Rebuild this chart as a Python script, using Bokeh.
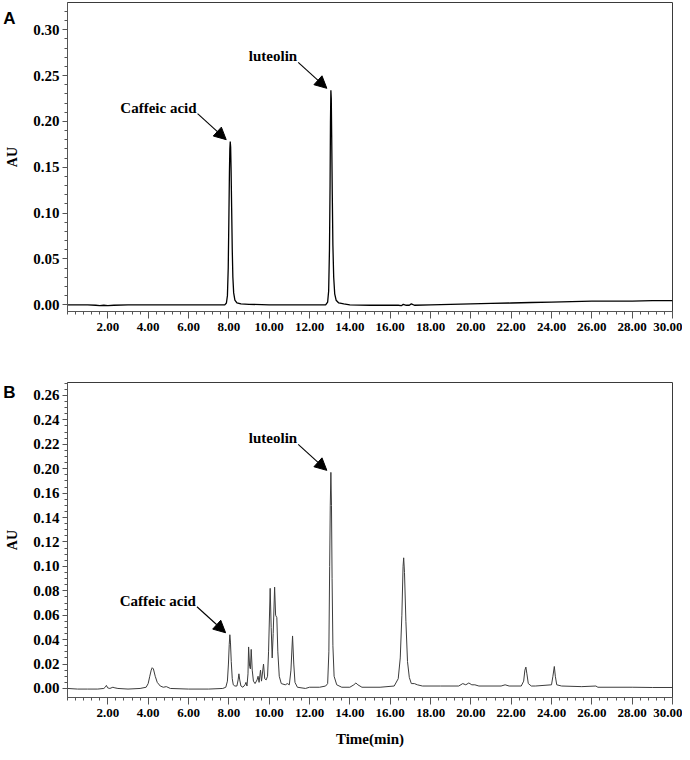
import numpy as np
from bokeh.plotting import figure
from bokeh.models import Range1d, FixedTicker, Arrow, NormalHead, Label, LinearAxis
from bokeh.layouts import column
from bokeh.embed import file_html
from bokeh.resources import INLINE

# ---------------- data: panel A (standards) ----------------
time_a = [0.0, 0.5, 1.0, 1.4, 1.6, 1.8, 2.0, 2.3, 3.0, 4.0, 5.0, 6.0, 7.0, 7.6,
          7.80, 7.88, 7.93, 7.97, 8.00, 8.03, 8.05, 8.07, 8.09, 8.11, 8.14, 8.17, 8.20, 8.24, 8.30, 8.40, 8.60,
          9.0, 10.0, 11.0, 12.0, 12.5,
          12.80, 12.90, 12.95, 12.99, 13.02, 13.04, 13.06, 13.08, 13.10, 13.13, 13.16, 13.20, 13.25, 13.32, 13.45, 13.70,
          14.0, 15.0, 16.0, 16.4, 16.55, 16.65, 16.8, 16.95, 17.05, 17.2, 18.0, 19.0, 20.0, 21.0, 22.0,
          23.0, 24.0, 25.0, 26.0, 27.0, 28.0, 29.0, 30.0]
au_a = [0.0, 0.0, 0.0, -0.0005, -0.001, -0.0005, -0.001, -0.0005, 0.0, 0.0, 0.0, 0.0, 0.0, 0.0,
        0.000, 0.002, 0.010, 0.040, 0.090, 0.145, 0.170, 0.178, 0.172, 0.150, 0.105, 0.060, 0.030, 0.013, 0.005, 0.002, 0.001,
        0.0005, 0.0, 0.0, 0.0, 0.0,
        0.000, 0.003, 0.015, 0.060, 0.130, 0.200, 0.234, 0.225, 0.185, 0.120, 0.065, 0.030, 0.012, 0.005, 0.002, 0.001,
        0.0, -0.0005, -0.0005, -0.0005, -0.001, 0.0005, -0.0005, -0.0005, 0.001, -0.0005, 0.0, 0.0005, 0.001, 0.0015, 0.002,
        0.0025, 0.003, 0.0035, 0.004, 0.004, 0.004, 0.0045, 0.0045]

# ---------------- data: panel B (sample) ----------------
time_b = [0.0, 0.5, 1.0, 1.5, 1.8, 1.87, 1.93, 1.99, 2.1, 2.25, 2.35, 2.5, 3.0, 3.6,
          3.90, 4.00, 4.08, 4.15, 4.20, 4.26, 4.35, 4.45, 4.60, 4.75, 4.90, 5.10, 6.0, 7.0, 7.7,
          7.85, 7.93, 7.98, 8.02, 8.05, 8.08, 8.12, 8.17, 8.22, 8.30,
          8.40, 8.46, 8.50, 8.54, 8.60, 8.70, 8.80, 8.85, 8.90,
          8.95, 8.98, 9.03, 9.07, 9.11, 9.16, 9.22, 9.30, 9.40, 9.45, 9.50, 9.57, 9.62, 9.72, 9.78,
          9.85, 9.92, 9.97, 10.05, 10.10, 10.15, 10.20, 10.27, 10.32, 10.38, 10.43, 10.50, 10.60,
          10.80, 10.90, 11.00, 11.08, 11.16, 11.22, 11.28, 11.40, 11.80, 12.00, 12.50, 12.80,
          12.90, 12.96, 13.00, 13.03, 13.06, 13.09, 13.12, 13.16, 13.22, 13.35, 13.60,
          14.00, 14.20, 14.30, 14.40, 14.60, 15.50, 16.20,
          16.40, 16.50, 16.58, 16.64, 16.67, 16.71, 16.78, 16.86, 16.95, 17.05, 17.20, 17.35, 17.60,
          18.50, 19.40, 19.60, 19.75, 19.90, 20.05, 20.20, 20.40, 21.50, 21.70, 21.90, 22.50,
          22.62, 22.68, 22.73, 22.78, 22.85, 23.00, 23.20, 24.00,
          24.07, 24.14, 24.19, 24.26, 24.50, 25.50, 26.20, 26.30, 27.0, 28.0, 29.0, 30.0]
au_b = [0.0, -0.0005, -0.0005, -0.0005, 0.0, 0.001, 0.0025, 0.0005, 0.0, 0.001, 0.0005, 0.0, -0.0005, 0.0,
        0.001, 0.004, 0.010, 0.015, 0.017, 0.016, 0.010, 0.005, 0.002, 0.001, 0.0015, 0.0, -0.0005, -0.0005, 0.0,
        0.001, 0.006, 0.020, 0.036, 0.044, 0.038, 0.022, 0.008, 0.003, 0.002,
        0.002, 0.007, 0.012, 0.007, 0.002, 0.001, 0.003, 0.005, 0.002,
        0.012, 0.034, 0.018, 0.016, 0.032, 0.015, 0.006, 0.004, 0.007, 0.010, 0.005, 0.015, 0.006, 0.020, 0.008,
        0.007, 0.010, 0.030, 0.082, 0.050, 0.025, 0.045, 0.083, 0.060, 0.058, 0.030, 0.010, 0.004,
        0.003, 0.004, 0.003, 0.015, 0.043, 0.020, 0.005, 0.001, 0.0, 0.001, 0.001, 0.002,
        0.004, 0.030, 0.100, 0.150, 0.177, 0.150, 0.090, 0.035, 0.010, 0.003, 0.001,
        0.001, 0.003, 0.0045, 0.003, 0.001, 0.001, 0.002,
        0.008, 0.025, 0.060, 0.100, 0.107, 0.095, 0.055, 0.022, 0.009, 0.004, 0.004, 0.003, 0.002,
        0.002, 0.002, 0.004, 0.003, 0.0045, 0.003, 0.003, 0.002, 0.002, 0.003, 0.002, 0.002,
        0.006, 0.015, 0.0175, 0.012, 0.004, 0.002, 0.002, 0.003,
        0.010, 0.018, 0.010, 0.003, 0.002, 0.0015, 0.002, 0.001, 0.001, 0.001, 0.0008, 0.0008]

# ---------------- annotated peaks ----------------
compounds = ["Caffeic acid", "luteolin"]
peak_time_a = [8.07, 13.06]
peak_au_a = [0.178, 0.234]
peak_time_b = [8.04, 13.06]
peak_au_b = [0.044, 0.177]

# ---------------- axes ----------------
x_ticks = [2, 4, 6, 8, 10, 12, 14, 16, 18, 20, 22, 24, 26, 28, 30]
x_labels = ["2.00", "4.00", "6.00", "8.00", "10.00", "12.00", "14.00", "16.00",
            "18.00", "20.00", "22.00", "24.00", "26.00", "28.00", "30.00"]
ya_ticks = [0.0, 0.05, 0.10, 0.15, 0.20, 0.25, 0.30]
ya_labels = ["0.00", "0.05", "0.10", "0.15", "0.20", "0.25", "0.30"]
yb_ticks = [0.0, 0.02, 0.04, 0.06, 0.08, 0.10, 0.12, 0.14, 0.16, 0.18, 0.20, 0.22, 0.24]
yb_labels = ["0.00", "0.02", "0.04", "0.06", "0.08", "0.10", "0.12", "0.14", "0.16",
             "0.20", "0.22", "0.24", "0.26"]

SERIF = "Liberation Serif"
SANS = "Liberation Sans"


def make_panel(t, v, y_range, yticks, ylabels, y_minor, height, b_top, b_bottom,
               color, lw, xlabel, px_per_unit, peaks_t, peaks_v, letter, letter_y):
    p = figure(width=682, height=height, x_range=Range1d(0, 30), y_range=Range1d(*y_range),
               output_backend="svg", toolbar_location=None,
               min_border_left=67, min_border_right=10, min_border_top=b_top,
               min_border_bottom=b_bottom)
    p.line(t, v, line_color=color, line_width=lw)
    p.xgrid.visible = False
    p.ygrid.visible = False
    p.background_fill_color = "white"
    p.outline_line_color = "#3a3a3a"
    p.outline_line_width = 1

    x_minor = [round(m, 2) for m in np.arange(0, 30.001, 0.4)]
    p.xaxis.ticker = FixedTicker(ticks=x_ticks, minor_ticks=x_minor)
    p.xaxis.major_label_overrides = dict(zip(x_ticks, x_labels))
    p.yaxis.ticker = FixedTicker(ticks=yticks, minor_ticks=y_minor)
    p.yaxis.major_label_overrides = dict(zip(yticks, ylabels))

    for ax in (p.xaxis[0], p.yaxis[0]):
        ax.axis_line_color = "#555555"
        ax.major_tick_line_color = "#555555"
        ax.minor_tick_line_color = "#555555"
        ax.major_tick_in = 0
        ax.minor_tick_in = 0
        ax.major_label_text_font = SERIF
        ax.major_label_text_font_style = "bold"
        ax.major_label_text_color = "black"
        ax.axis_label_text_font = SERIF
        ax.axis_label_text_font_style = "bold"
        ax.axis_label_text_color = "black"
    p.xaxis.major_tick_out = 7
    p.xaxis.minor_tick_out = 3
    p.xaxis.major_label_standoff = 4
    p.xaxis.major_label_text_font_size = "13px"
    p.xaxis.axis_label_text_font_size = "15px"
    p.yaxis.major_tick_out = 5
    p.yaxis.minor_tick_out = 3
    p.yaxis.major_label_standoff = 3
    p.yaxis.major_label_text_font_size = "15px"
    p.yaxis.axis_label = "AU"
    p.yaxis.axis_label_text_font_size = "14px"
    p.yaxis.axis_label_standoff = 10
    if xlabel:
        p.xaxis.axis_label = xlabel
        p.xaxis.axis_label_standoff = 11

    # panel letter, drawn as the only tick label of an outer, line-less axis
    letter_axis = LinearAxis(ticker=FixedTicker(ticks=[letter_y], minor_ticks=[]),
                             major_label_overrides={letter_y: letter},
                             axis_line_color=None, major_tick_line_color=None,
                             minor_tick_line_color=None, major_tick_out=0, major_tick_in=0,
                             major_label_standoff=-13,
                             major_label_text_font=SANS, major_label_text_font_style="bold",
                             major_label_text_font_size="17px", major_label_text_color="black")
    p.add_layout(letter_axis, "left")

    # arrows + compound names (offsets in screen pixels converted to data units)
    dx_tip, dx_tail = 0.2, 1.42
    dy_tip = 2 / px_per_unit
    dy_tail = 26 / px_per_unit
    for name, pt, pv in zip(compounds, peaks_t, peaks_v):
        xt, yt = pt - dx_tip, pv + dy_tip
        xs, ys = xt - dx_tail, yt + dy_tail
        p.add_layout(Arrow(end=NormalHead(size=12, fill_color="black", line_color="black"),
                           x_start=xs, y_start=ys, x_end=xt, y_end=yt,
                           line_color="black", line_width=1.1))
        p.add_layout(Label(x=xs - 0.05, y=ys + 6 / px_per_unit, text=name,
                           text_align="right", text_baseline="middle",
                           text_font=SERIF, text_font_style="bold", text_font_size="15px",
                           text_color="black"))
    return p


ya_minor = [round(m, 3) for m in np.arange(0, 0.3201, 0.01)]
yb_minor = [round(m, 3) for m in np.arange(0, 0.2501, 0.005)]

pa = make_panel(time_a, au_a, (-0.0073, 0.3298), ya_ticks, ya_labels, ya_minor,
                372, 2, 61, "#000000", 1.3, None, 916.7,
                peak_time_a, peak_au_a, "A", 0.3123)
pb = make_panel(time_b, au_b, (-0.0074, 0.2506), yb_ticks, yb_labels, yb_minor,
                380, 10, 55, "#3c3c3c", 1.0, "Time(min)", 1221.0,
                peak_time_b, peak_au_b, "B", 0.2424)

layout = column(pa, pb)
open("out.html", "w").write(file_html(layout, INLINE))
